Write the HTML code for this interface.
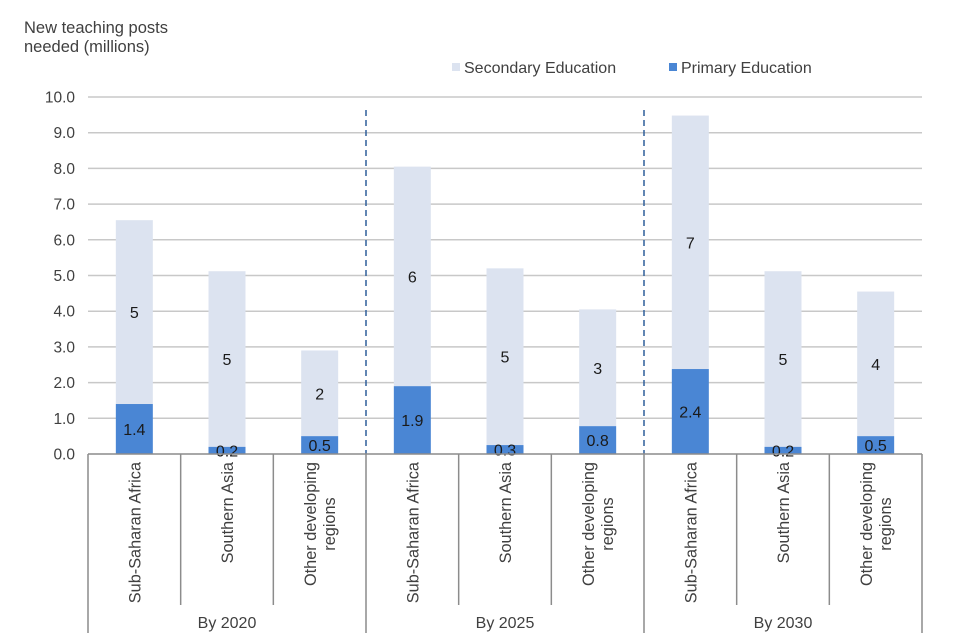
<!DOCTYPE html>
<html><head><meta charset="utf-8"><style>
body{margin:0;background:#fff;}
svg{display:block;font-family:"Liberation Sans",Arial,sans-serif;}
</style></head><body>
<svg id="chart" width="960" height="640">
<text x="24" y="33" font-size="16.5" fill="#404040">New teaching posts</text>
<text x="24" y="52" font-size="16.5" fill="#404040">needed (millions)</text>
<g>
<rect x="452" y="63" width="8" height="8" fill="#dce3f0"/>
<text x="464" y="73" font-size="16" fill="#404040">Secondary Education</text>
<rect x="669" y="63" width="8" height="8" fill="#4a86d4"/>
<text x="681" y="73" font-size="16" fill="#404040">Primary Education</text>
</g>
<g id="grid"></g><g id="bars"></g><g id="axes"></g>
</svg>
<script>
const categories=["Sub-Saharan Africa","Southern Asia","Other developing regions","Sub-Saharan Africa","Southern Asia","Other developing regions","Sub-Saharan Africa","Southern Asia","Other developing regions"];
const groups=["By 2020","By 2025","By 2030"];
const primary=[1.4,0.2,0.5,1.9,0.25,0.78,2.38,0.2,0.5];
const secondary=[5.15,4.92,2.4,6.15,4.95,3.27,7.1,4.92,4.05];
const yTicks=[0,1,2,3,4,5,6,7,8,9,10];
const NS="http://www.w3.org/2000/svg";
const x0=88,x1=922,y0=454,yTop=97,yMax=10;
const step=(x1-x0)/categories.length,bw=37;
const y=v=>y0-(v/yMax)*(y0-yTop);
const xc=i=>x0+step*(i+0.5);
function mk(tag,attrs,parent,txt){const e=document.createElementNS(NS,tag);for(const k in attrs)e.setAttribute(k,attrs[k]);if(txt!==undefined)e.textContent=txt;parent.appendChild(e);return e;}
const grid=document.getElementById('grid'),bars=document.getElementById('bars'),axes=document.getElementById('axes');
yTicks.forEach(t=>{
 if(t>0){const l=mk('line',{x1:x0,x2:x1,y1:y(t),y2:y(t),stroke:'#c8c8c8','stroke-width':1.5},grid);
 
 }
 const tx=mk('text',{x:75,y:y(t)+5.5,'font-size':15.5,fill:'#404040','text-anchor':'end'},axes,t.toFixed(1));
 
 
});
categories.forEach((c,i)=>{
 const cx=xc(i);
 const s=mk('rect',{x:cx-bw/2,y:y(primary[i]+secondary[i]),width:bw,height:y(primary[i])-y(primary[i]+secondary[i]),fill:'#dce3f0'},bars);
 
 
 const p=mk('rect',{x:cx-bw/2,y:y(primary[i]),width:bw,height:y0-y(primary[i]),fill:'#4a86d4'},bars);
 
 
 const pl=mk('text',{x:cx,y:(y(primary[i])+y0)/2+6,'font-size':16,fill:'#1a1a1a','text-anchor':'middle'},bars,primary[i].toFixed(1));
 
 
 const sl=mk('text',{x:cx,y:(y(primary[i])+y(primary[i]+secondary[i]))/2+6,'font-size':16,fill:'#1a1a1a','text-anchor':'middle'},bars,String(Math.round(secondary[i])));
 
 
 const parts=c==="Other developing regions"?["Other developing","regions"]:[c];
 parts.forEach((pt,k)=>{
  const ox=cx+6+(k-(parts.length-1)/2)*19;
  const oy=parts.length>1?524:462;
  const ct=mk('text',{x:ox,y:oy,'font-size':16.3,fill:'#404040','text-anchor':parts.length>1?'middle':'end',transform:`rotate(-90 ${ox} ${oy})`},axes,pt);
  
  
 });
 if((i+1)%3!==0){const sp=mk('line',{x1:x0+step*(i+1),x2:x0+step*(i+1),y1:y0,y2:605,stroke:'#8c8c8c','stroke-width':1.5},axes);
 
 }
});
groups.forEach((g,j)=>{
 const gx=x0+step*3*j;
 const gl=mk('line',{x1:gx,x2:gx,y1:y0,y2:633,stroke:'#8c8c8c','stroke-width':1.5},axes);
 
 
 const gt=mk('text',{x:gx+step*1.5,y:628,'font-size':16,fill:'#404040','text-anchor':'middle'},axes,g);
 
 
 if(j>0){const d=mk('line',{x1:gx,x2:gx,y1:110,y2:y0,stroke:'#2f5f9a','stroke-width':1.5,'stroke-dasharray':'6,4'},axes);
 
 }
});
const el=mk('line',{x1:x1,x2:x1,y1:y0,y2:633,stroke:'#8c8c8c','stroke-width':1.5},axes);


const ax=mk('line',{x1:x0,x2:x1,y1:y0,y2:y0,stroke:'#8c8c8c','stroke-width':1.5},axes);


</script>
</body></html>
